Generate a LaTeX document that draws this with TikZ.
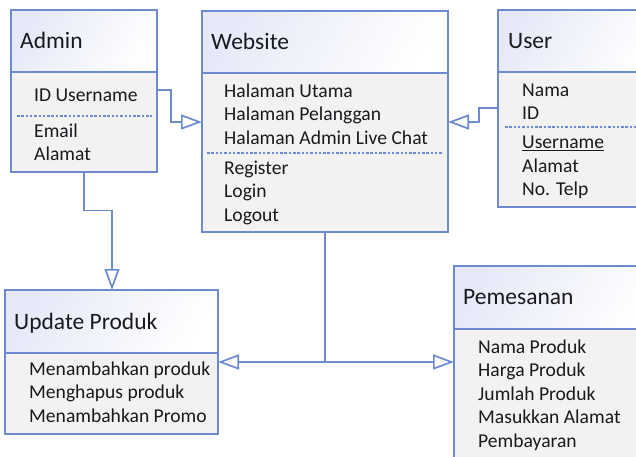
\documentclass[tikz,border=0pt]{standalone}
\usepackage{fontspec}
\setmainfont{Carlito}
\usetikzlibrary{arrows.meta}
\definecolor{umlblue}{RGB}{108,139,208}
\definecolor{hdrlav}{RGB}{230,233,248}
\definecolor{bodygray}{RGB}{242,242,242}
\definecolor{txt}{RGB}{25,25,30}
\tikzset{
  hdr/.style={draw=umlblue, line width=1.7pt, left color=hdrlav, right color=white, shading angle=60},
  bdy/.style={draw=umlblue, line width=1.7pt, fill=bodygray},
  ttl/.style={anchor=base west, inner sep=0pt, font=\fontsize{23.5}{28}\selectfont, text=txt},
  itm/.style={anchor=base west, inner sep=0pt, font=\fontsize{19.6}{23}\selectfont, text=txt},
  sep/.style={draw=umlblue, line width=1.3pt, dash pattern=on 2.5pt off 1.8pt},
  conn/.style={draw=umlblue, line width=1.7pt, -{Triangle[open, length=21pt, width=15pt, fill=white]}},
  connplain/.style={draw=umlblue, line width=1.7pt},
}
\begin{document}
\begin{tikzpicture}[x=1pt,y=-1pt]
\useasboundingbox (0,0) rectangle (636,456);
\fill[white] (0,0) rectangle (636,456);
% ---------- Admin ----------
\path[hdr] (11,10) rectangle (157,72);
\path[bdy] (11,72) rectangle (157,172);
\node[ttl] (adminT) at (20,48) {Admin};
\node[itm] (a1) at (34,101) {ID Username};
\draw[sep] (17,116) -- (152,116);
\node[itm] (a2) at (34,137) {Email};
\node[itm] (a3) at (34,160) {Alamat};
\coordinate (adminR) at (157,90);
\coordinate (adminB) at (84,172);
% ---------- Website ----------
\path[hdr] (202,11) rectangle (448,73);
\path[bdy] (202,73) rectangle (448,232);
\node[ttl] (webT) at (211,49) {Website};
\node[itm] (w1) at (224,97) {Halaman Utama};
\node[itm] (w2) at (224,120.5) {Halaman Pelanggan};
\node[itm] (w3) at (224,144) {Halaman Admin Live Chat};
\draw[sep] (207,153) -- (443,153);
\node[itm] (w4) at (224,174) {Register};
\node[itm] (w5) at (224,197.5) {Login};
\node[itm] (w6) at (224,221) {Logout};
\coordinate (webL) at (202,122);
\coordinate (webR) at (448,122);
\coordinate (webB) at (325,232);
% ---------- User ----------
\path[hdr] (498,10) rectangle (660,72);
\path[bdy] (498,72) rectangle (660,207);
\node[ttl] (userT) at (508,48) {User};
\node[itm] (u1) at (522,96) {Nama};
\node[itm] (u2) at (522,119.5) {ID};
\draw[sep] (505,127) -- (640,127);
\node[itm] (u3) at (522,148.5) {\underline{Username}};
\node[itm] (u4) at (522,172) {Alamat};
\node[itm] (u5) at (522,195.5) {No. Telp};
\coordinate (userL) at (498,108);
% ---------- Update Produk ----------
\path[hdr] (5,290) rectangle (218,353);
\path[bdy] (5,353) rectangle (218,434);
\node[ttl] (updT) at (14,329) {Update Produk};
\node[itm] (p1) at (29,375) {Menambahkan produk};
\node[itm] (p2) at (29,398.5) {Menghapus produk};
\node[itm] (p3) at (29,422) {Menambahkan Promo};
\coordinate (updT0) at (112,290);
\coordinate (updR) at (218,362);
% ---------- Pemesanan ----------
\path[hdr] (454,266) rectangle (660,329);
\path[bdy] (454,329) rectangle (660,480);
\node[ttl] (pemT) at (463,304) {Pemesanan};
\node[itm] (m1) at (478,353) {Nama Produk};
\node[itm] (m2) at (478,376.5) {Harga Produk};
\node[itm] (m3) at (478,400) {Jumlah Produk};
\node[itm] (m4) at (478,423.5) {Masukkan Alamat};
\node[itm] (m5) at (478,447) {Pembayaran};
\coordinate (pemL) at (454,362);
% ---------- Connectors ----------
\coordinate (junc) at (325,362);
\draw[conn] (adminR) -- (171,90) -- (171,122) -- (webL);
\draw[conn] (userL) -- (479,108) -- (479,122) -- (webR);
\draw[conn] (adminB) -- (84,210.5) -- (112,210.5) -- (updT0);
\draw[connplain, line width=2.6pt] (webB) -- (junc);
\draw[conn] (junc) -- (updR);
\draw[conn] (junc) -- (pemL);
\end{tikzpicture}
\end{document}
